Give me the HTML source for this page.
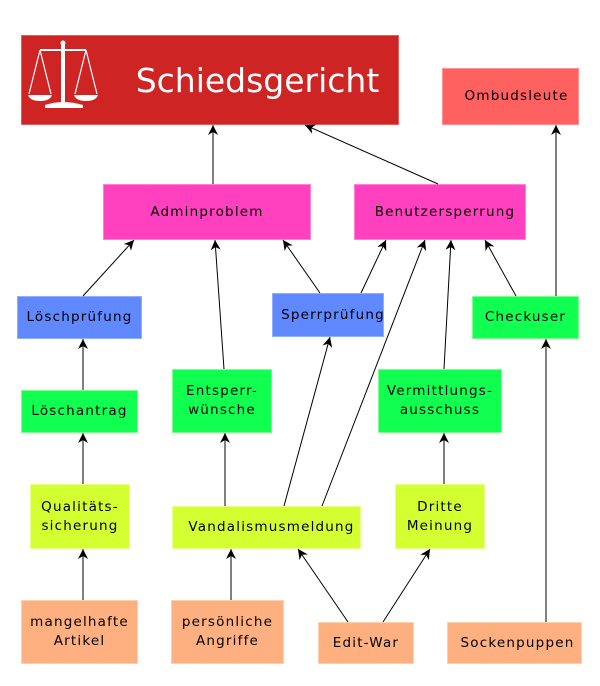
<!DOCTYPE html>
<html><head><meta charset="utf-8"><style>
body{margin:0;width:600px;height:686px;background:#fff;position:relative;overflow:hidden;font-family:"DejaVu Sans","Liberation Sans",sans-serif}
.b{position:absolute;display:flex;align-items:center;justify-content:center;text-align:center;font-size:13.5px;letter-spacing:1.2px;line-height:19px;color:#000;box-sizing:border-box;white-space:nowrap}
.r{background:#cf2424;border:1px solid #e06060}
.o{background:#ff6060;border:1px solid #ff9090}
.m{background:#ff40bf;border:1px solid #ff80d8}
.bl{background:#6088ff;border:1px solid #90b0ff}
.g{background:#10ff50;border:1px solid #80ff90}
.y{background:#d4ff30;border:1px solid #e8ff90}
.p{background:#ffb080;border:1px solid #ffd0b0}
svg{position:absolute;left:0;top:0}
</style></head><body>
<div class="b r" style="left:21px;top:35px;width:378px;height:90px;color:#fff;font-size:33px;letter-spacing:0;padding-left:95px">Schiedsgericht</div>
<div class="b o" style="left:442px;top:68px;width:137px;height:57px;padding-left:12px">Ombudsleute</div>
<div class="b m" style="left:103px;top:184px;width:208px;height:56px">Adminproblem</div>
<div class="b m" style="left:354px;top:184px;width:172px;height:56px;padding-left:10px">Benutzersperrung</div>
<div class="b bl" style="left:17px;top:296px;width:125px;height:43px">Löschprüfung</div>
<div class="b bl" style="left:272px;top:293px;width:112px;height:44px;padding-left:10px">Sperrprüfung</div>
<div class="b g" style="left:472px;top:296px;width:107px;height:43px">Checkuser</div>
<div class="b g" style="left:21px;top:390px;width:117px;height:43px">Löschantrag</div>
<div class="b g" style="left:172px;top:369px;width:100px;height:64px">Entsperr-<br>wünsche</div>
<div class="b g" style="left:378px;top:369px;width:124px;height:64px">Vermittlungs-<br>ausschuss</div>
<div class="b y" style="left:30px;top:484px;width:100px;height:65px">Qualitäts-<br>sicherung</div>
<div class="b y" style="left:172px;top:506px;width:189px;height:43px;padding-left:10px">Vandalismusmeldung</div>
<div class="b y" style="left:395px;top:484px;width:90px;height:65px">Dritte<br>Meinung</div>
<div class="b p" style="left:21px;top:600px;width:117px;height:64px">mangelhafte<br>Artikel</div>
<div class="b p" style="left:171px;top:600px;width:113px;height:64px">persönliche<br>Angriffe</div>
<div class="b p" style="left:318px;top:622px;width:96px;height:42px">Edit-War</div>
<div class="b p" style="left:447px;top:622px;width:135px;height:42px;padding-left:6px">Sockenpuppen</div>
<svg width="600" height="686" viewBox="0 0 600 686">
<defs><marker id="a" viewBox="0 0 10 10" refX="10" refY="5" markerWidth="10" markerHeight="10" markerUnits="userSpaceOnUse" orient="auto"><path d="M0,0 L10,5 L0,10 L3,5 z" fill="#000"/></marker></defs>
<g stroke="#000" stroke-width="1" fill="none" marker-end="url(#a)">
<line x1="213" y1="184" x2="213" y2="125"/>
<line x1="438" y1="184" x2="305" y2="125"/>
<line x1="556" y1="296" x2="556" y2="125"/>
<line x1="83" y1="296" x2="134" y2="240"/>
<line x1="224" y1="369" x2="215" y2="240"/>
<line x1="320" y1="293" x2="283" y2="240"/>
<line x1="361" y1="293" x2="386" y2="240"/>
<line x1="322" y1="506" x2="425" y2="240"/>
<line x1="444" y1="369" x2="451" y2="240"/>
<line x1="516" y1="296" x2="485" y2="240"/>
<line x1="284" y1="506" x2="330" y2="337"/>
<line x1="83" y1="390" x2="83" y2="339"/>
<line x1="83" y1="484" x2="83" y2="433"/>
<line x1="83" y1="600" x2="83" y2="549"/>
<line x1="225" y1="506" x2="225" y2="433"/>
<line x1="231" y1="600" x2="231" y2="549"/>
<line x1="348" y1="622" x2="298" y2="549"/>
<line x1="383" y1="622" x2="430" y2="549"/>
<line x1="444" y1="484" x2="444" y2="433"/>
<line x1="546" y1="622" x2="546" y2="339"/>
</g>
<g fill="#fff" stroke="#fff">
<rect x="61" y="43" width="4" height="62" stroke="none"/>
<line x1="40" y1="50" x2="86" y2="50" stroke-width="2"/>
<path d="M45,105 Q63,99 83,105 L83,108 L45,108z" stroke="none"/>
<path d="M40,50 L29,94 M40,50 L51,94 M86,50 L75,94 M86,50 L97,94" stroke-width="1.2" fill="none"/>
<path d="M28,95 L52,95 Q50,101 40,101 Q30,101 28,95z" stroke="none"/>
<path d="M74,95 L98,95 Q96,101 86,101 Q76,101 74,95z" stroke="none"/>
<circle cx="63" cy="43" r="2.5" stroke="none"/>
</g>
</svg>
</body></html>
